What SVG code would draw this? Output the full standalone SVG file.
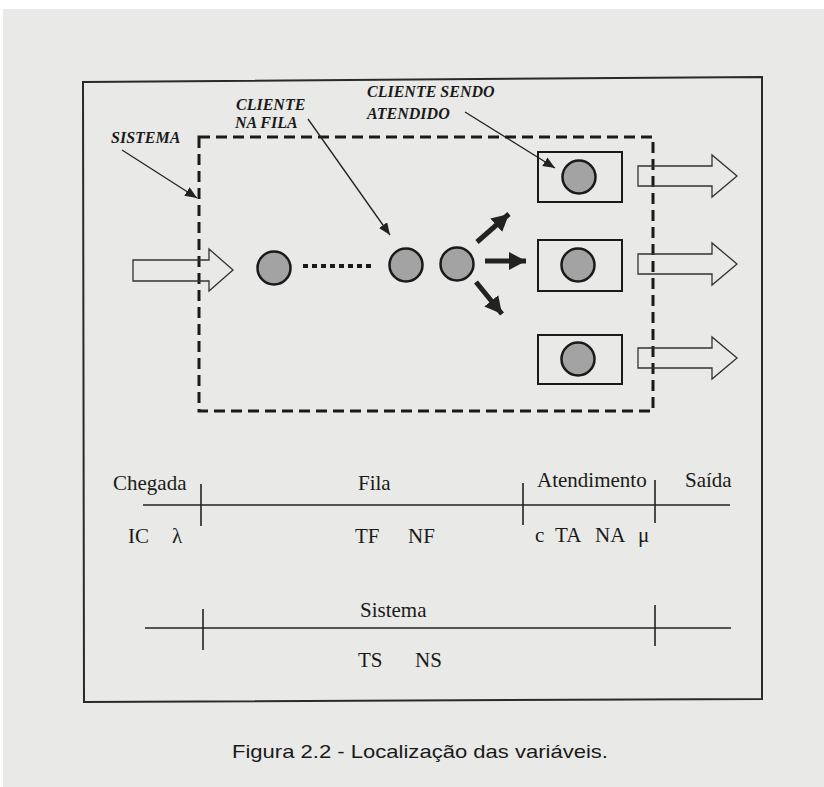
<svg xmlns="http://www.w3.org/2000/svg" width="824" height="787" viewBox="0 0 824 787">
<style>
.lbl{font-family:"Liberation Serif","Times New Roman",serif;font-style:italic;font-weight:bold;font-size:16px;fill:#1a1a1a}
.var{font-family:"Liberation Serif","Times New Roman",serif;font-size:21px;fill:#1a1a1a}
.cap{font-family:"Liberation Sans",Arial,sans-serif;font-size:19px;fill:#1a1a1a}
.cust{fill:#a3a3a3;stroke:#1a1a1a;stroke-width:2.5}
.box{fill:none;stroke:#1a1a1a;stroke-width:2}
.hollow{fill:none;stroke:#333;stroke-width:1.3}
.ptr{stroke:#222;stroke-width:1.3;fill:none;marker-end:url(#ptrHead)}
.fat{stroke:#222;stroke-width:5;fill:none;marker-end:url(#fatHead)}
.axis{stroke:#222;stroke-width:1.6;fill:none}
</style>
<defs>
<marker id="ptrHead" markerUnits="userSpaceOnUse" markerWidth="14" markerHeight="12" refX="12" refY="5" orient="auto">
<path d="M0,0 L12,5 L0,10 Z" fill="#222"/>
</marker>
<marker id="fatHead" markerUnits="userSpaceOnUse" markerWidth="20" markerHeight="20" refX="17" refY="9" orient="auto">
<path d="M0,0 L17,9 L0,18 Z" fill="#222"/>
</marker>
</defs>
<rect x="0" y="0" width="824" height="787" fill="#ffffff"/>
<rect x="3" y="9" width="821" height="778" fill="#e9e9e7"/>
<polygon points="83,82 762,77 762,699 84,702" fill="none" stroke="#2a2a2a" stroke-width="2"/>

<g id="sistema-boundary">
<rect x="199" y="137" width="454" height="274" fill="none" stroke="#1a1a1a" stroke-width="3" stroke-dasharray="11 6"/>
</g>

<g id="entrada"><path class="hollow" d="M133,260 H209 V249 L233,270 L209,291 V281 H133 Z"/></g>

<g id="cliente1"><circle class="cust" cx="274" cy="268" r="16.5"/></g>
<g id="cliente2"><circle class="cust" cx="406" cy="265" r="16.5"/></g>
<g id="cliente3"><circle class="cust" cx="457" cy="264" r="16.5"/></g>

<g id="servidor1"><rect class="box" x="538" y="152" width="84" height="50"/><circle class="cust" cx="579" cy="177" r="16.5"/></g>
<g id="servidor2"><rect class="box" x="538" y="240" width="84" height="51"/><circle class="cust" cx="578" cy="265" r="16.5"/></g>
<g id="servidor3"><rect class="box" x="538" y="335" width="84" height="49"/><circle class="cust" cx="578" cy="359" r="16.5"/></g>

<g id="saidas">
<path class="hollow" d="M638,166 H712 V155 L737,176 L712,197 V186 H638 Z"/>
<path class="hollow" d="M638,254 H712 V243 L737,264 L712,285 V274 H638 Z"/>
<path class="hollow" d="M638,348 H712 V337 L737,358 L712,379 V368 H638 Z"/>
</g>

<g id="connectors">
<line x1="303" y1="266" x2="375" y2="266" stroke="#1a1a1a" stroke-width="4" stroke-dasharray="5 4"/>
<line class="fat" x1="477" y1="242" x2="509" y2="214"/>
<line class="fat" x1="485" y1="261" x2="526" y2="261"/>
<line class="fat" x1="476" y1="282" x2="502" y2="314"/>
<line class="ptr" x1="122" y1="150" x2="197" y2="198"/>
<line class="ptr" x1="308" y1="119" x2="390" y2="235"/>
<line class="ptr" x1="465" y1="112" x2="555" y2="168"/>
</g>

<g id="labels">
<text class="lbl" x="111" y="143">SISTEMA</text>
<text class="lbl" x="236" y="110">CLIENTE</text>
<text class="lbl" x="235" y="128">NA FILA</text>
<text class="lbl" x="367" y="97">CLIENTE SENDO</text>
<text class="lbl" x="367" y="119">ATENDIDO</text>
</g>

<g id="timeline">
<line class="axis" x1="143" y1="505" x2="730" y2="505"/>
<line class="axis" x1="201" y1="484" x2="201" y2="526"/>
<line class="axis" x1="523" y1="483" x2="523" y2="525"/>
<line class="axis" x1="655" y1="480" x2="655" y2="523"/>
<text class="var" x="113" y="490">Chegada</text>
<text class="var" x="358" y="490">Fila</text>
<text class="var" x="537" y="487">Atendimento</text>
<text class="var" x="685" y="487">Saída</text>
<text class="var" x="128" y="543">IC</text>
<text class="var" x="172" y="543">λ</text>
<text class="var" x="355" y="543">TF</text>
<text class="var" x="408" y="543">NF</text>
<text class="var" x="535" y="542">c</text>
<text class="var" x="555" y="542">TA</text>
<text class="var" x="595" y="542">NA</text>
<text class="var" x="638" y="542">μ</text>
</g>

<g id="sistema-axis">
<line class="axis" x1="145" y1="628" x2="731" y2="628"/>
<line class="axis" x1="203" y1="609" x2="203" y2="650"/>
<line class="axis" x1="655" y1="605" x2="655" y2="646"/>
<text class="var" x="360" y="617">Sistema</text>
<text class="var" x="358" y="667">TS</text>
<text class="var" x="415" y="667">NS</text>
</g>

<text class="cap" x="232" y="758" textLength="376" lengthAdjust="spacingAndGlyphs">Figura 2.2 - Localização das variáveis.</text>
</svg>
